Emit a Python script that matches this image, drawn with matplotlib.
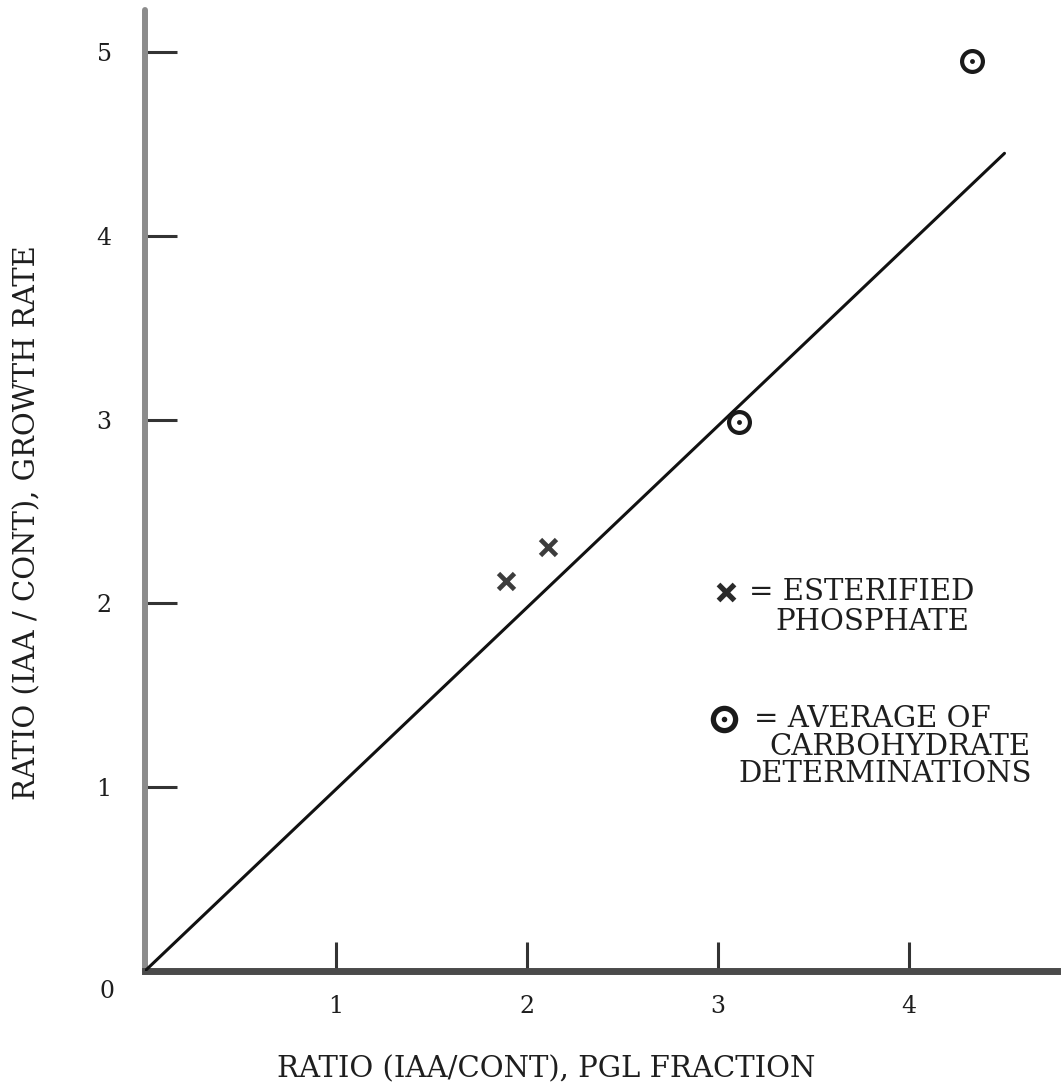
import numpy as np
import matplotlib
matplotlib.use('Agg')
import matplotlib.pyplot as plt

plt.rcParams['font.family'] = ['DejaVu Serif']

# ratios read per fraction
esterified_x = [1.89, 2.11]
esterified_y = [2.12, 2.31]
carbo_x = [3.11, 4.33]
carbo_y = [2.99, 4.95]

# fitted line (IAA/CONT growth vs PGL fraction)
fit_x = [0.0, 4.50]
fit_y = [0.0, 4.45]

x_ticks = [1, 2, 3, 4]
y_ticks = [1, 2, 3, 4, 5]

ink = '#1e1e1e'

fig = plt.figure(figsize=(10.62, 10.86), dpi=100)
ax = fig.add_axes([0.1365, 0.1059, 0.8588, 0.8849])
ax.set_xlim(0, 4.775)
ax.set_ylim(0, 5.23)

for s in ['top', 'right']:
    ax.spines[s].set_visible(False)
ax.spines['left'].set_color('#8c8c8c')
ax.spines['left'].set_linewidth(4.3)
ax.spines['left'].set_capstyle('round')
ax.spines['bottom'].set_color('#4a4a4a')
ax.spines['bottom'].set_linewidth(5.0)

ax.set_xticks(x_ticks)
ax.set_yticks(y_ticks)
ax.set_xticklabels([str(v) for v in x_ticks])
ax.set_yticklabels([str(v) for v in y_ticks])
ax.tick_params(axis='x', direction='in', length=21, width=2.2, color='#333333',
               pad=17, labelsize=17, labelcolor=ink)
ax.tick_params(axis='y', direction='in', length=23, width=2.2, color='#333333',
               pad=24, labelsize=17, labelcolor=ink)
ax.text(-0.2, -0.11, '0', fontsize=17, color=ink, ha='center', va='center')

ax.plot(fit_x, fit_y, color='#111111', lw=2.2, solid_capstyle='round', zorder=3)

ax.plot(esterified_x, esterified_y, ls='none', marker='x', ms=11, mew=3.4,
        color='#3c3c3c', zorder=4)
ax.plot(carbo_x, carbo_y, ls='none', marker='o', ms=15, mew=3.0,
        mfc='white', mec='#1a1a1a', zorder=4)
ax.plot(carbo_x, carbo_y, ls='none', marker='o', ms=3.5, mew=0,
        color='#1a1a1a', zorder=5)

# key
ax.plot([3.04], [2.06], ls='none', marker='x', ms=11, mew=3.8, color='#2a2a2a')
ax.plot([3.03], [1.37], ls='none', marker='o', ms=16, mew=3.8,
        mfc='white', mec='#1a1a1a')
ax.plot([3.03], [1.37], ls='none', marker='o', ms=4, mew=0, color='#1a1a1a')

key_lines = [
    ('= ESTERIFIED', 3.755, 2.06),
    ('PHOSPHATE', 3.81, 1.90),
    ('= AVERAGE OF', 3.81, 1.37),
    ('CARBOHYDRATE', 3.955, 1.22),
    ('DETERMINATIONS', 3.875, 1.07),
]
for txt, tx, ty in key_lines:
    ax.text(tx, ty, txt, fontsize=21, color=ink, ha='center', va='center')

ax.set_xlabel('RATIO (IAA/CONT), PGL FRACTION', fontsize=21, color=ink)
ax.set_ylabel('RATIO (IAA / CONT), GROWTH RATE', fontsize=21, color=ink)
ax.xaxis.set_label_coords(0.44, -0.0874)
ax.yaxis.set_label_coords(-0.114, 0.467)

fig.savefig('out.png', dpi=100, facecolor='white')
